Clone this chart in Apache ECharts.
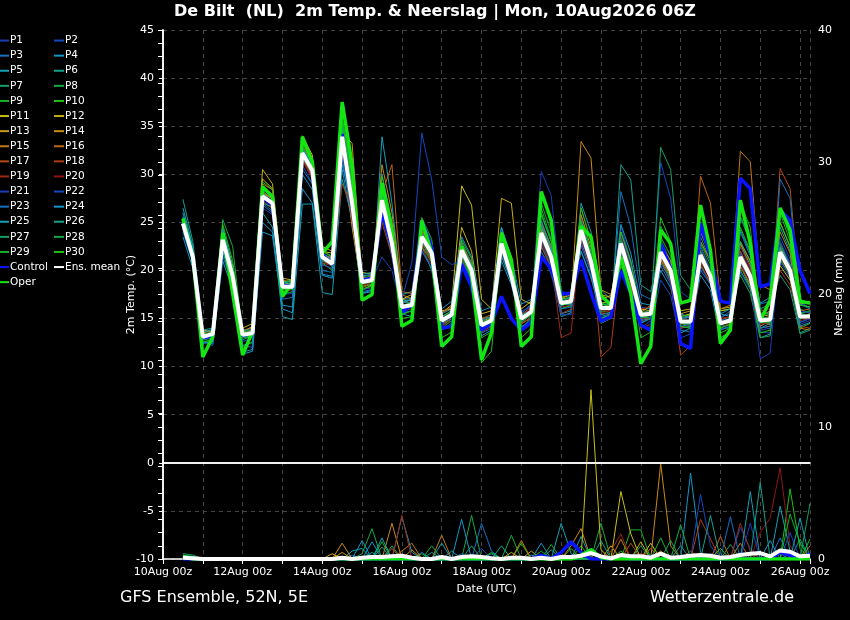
<!DOCTYPE html>
<html><head><meta charset="utf-8">
<script src="https://cdn.jsdelivr.net/npm/echarts@6/dist/echarts.min.js"></script>
<style>html,body{margin:0;padding:0;background:#000}#c{width:850px;height:620px}</style>
</head><body><div id="c"></div>
<script>
// time axis: hours since 10Aug 00z; forecast steps every 6 h from 10Aug 12z
const firstStepHour = 12, stepHours = 6, nSteps = 64;
const dateLabels = ['10Aug 00z','12Aug 00z','14Aug 00z','16Aug 00z','18Aug 00z','20Aug 00z','22Aug 00z','24Aug 00z','26Aug 00z'];
const tempTicks = [-10,-5,0,5,10,15,20,25,30,35,40,45];

// 2m temperature (°C)
const P1  = [24.5,21.0,13.0,13.6, 22.8,19.0,13.5,13.9, 27.2,26.5,18.6,18.0, 31.5,29.8,21.0,20.4, 33.0,26.0,18.5,19.2, 26.0,22.0,16.8,16.5, 22.0,20.5,15.2,15.8, 21.0,19.2,14.6,15.0, 23.5,20.0,15.8,16.2, 25.0,22.4,17.5,17.0, 23.0,20.0,15.4,15.0, 21.5,18.6,14.0,14.8, 23.2,21.0,15.6,15.0, 20.4,18.5,13.8,14.2, 22.5,20.2,16.0,15.4, 20.8,19.2,14.4,14.8];
const P2  = [25.2,21.8,13.4,13.2, 23.6,19.8,13.0,13.2, 28.0,27.4,18.0,18.6, 32.6,30.9,21.8,21.0, 34.5,27.8,19.0,18.7, 28.2,23.5,16.0,16.8, 24.5,22.6,14.2,15.0, 23.0,20.8,13.9,14.5, 21.5,18.8,14.4,15.2, 22.8,20.6,16.0,16.5, 25.5,22.0,17.0,16.8, 24.6,21.0,16.2,16.0, 31.2,27.5,17.8,17.0, 22.5,20.0,15.2,15.5, 19.8,18.0,13.6,13.5, 23.5,21.2,16.8,16.0];
const P3  = [24.2,21.2,13.6,13.9, 22.5,19.6,13.8,14.0, 27.0,26.2,18.8,18.9, 31.8,29.6,21.2,21.3, 33.2,27.5,19.4,19.6, 27.0,23.4,17.0,17.2, 23.0,21.0,15.0,15.9, 21.5,19.5,14.0,14.4, 22.0,19.0,14.8,15.6, 23.2,21.0,16.2,17.0, 22.6,19.8,15.0,15.6, 28.2,24.5,17.5,17.0, 20.5,18.6,13.8,13.6, 22.0,19.8,15.0,15.8, 24.0,21.5,16.5,16.8, 21.0,19.5,14.6,15.0];
const P4  = [23.5,20.2,12.6,12.4, 21.0,18.0,11.5,11.8, 24.0,23.6,16.0,15.6, 28.5,27.0,19.5,19.2, 30.5,25.0,17.6,18.0, 26.0,21.5,15.5,15.2, 22.5,20.0,14.5,15.0, 20.5,18.8,13.2,13.8, 21.0,18.5,14.2,14.6, 22.0,20.0,15.5,15.8, 23.5,20.5,15.8,16.0, 21.0,18.2,14.5,15.0, 20.0,18.2,14.0,14.2, 19.5,18.0,13.0,13.6, 20.8,18.6,14.0,14.5, 22.0,20.5,15.0,15.5];
const P5  = [26.5,22.5,13.0,13.2, 24.5,20.5,12.2,12.5, 26.0,24.5,15.2,14.9, 26.9,26.9,17.7,17.5, 29.5,25.5,17.0,17.5, 33.9,27.0,17.5,17.8, 25.0,22.8,15.5,16.0, 22.5,20.6,15.0,15.2, 24.5,21.0,15.5,16.5, 22.5,20.4,15.2,15.6, 27.0,24.0,18.0,17.0, 23.5,20.2,15.8,16.2, 21.0,19.0,13.5,14.0, 23.0,21.0,15.5,15.2, 20.0,18.2,13.0,13.4, 24.5,22.0,16.5,16.2];
const P6  = [25.0,21.6,13.2,13.6, 23.8,20.2,13.6,13.4, 28.2,27.5,18.4,18.0, 32.8,31.0,21.6,20.6, 35.0,29.0,19.5,19.5, 27.5,23.0,16.5,16.2, 23.8,22.0,15.0,15.2, 21.8,19.8,14.8,15.0, 21.5,18.9,14.0,15.0, 25.8,23.0,17.2,17.5, 22.0,19.2,15.5,15.0, 31.0,29.4,18.5,17.8, 22.5,20.2,15.0,15.2, 20.5,18.8,14.0,14.0, 25.5,23.0,16.0,16.5, 19.5,18.0,13.5,14.0];
const P7  = [25.5,22.0,13.3,13.1, 23.0,19.2,12.8,13.2, 27.5,27.2,18.0,18.4, 32.0,30.2,21.2,21.0, 34.0,27.0,18.6,19.3, 26.5,22.4,16.4,16.6, 22.8,21.4,14.2,15.0, 23.0,20.4,14.0,14.2, 22.6,19.6,15.4,15.8, 24.5,22.0,17.0,16.5, 24.8,21.5,16.5,16.2, 22.0,19.0,14.8,15.5, 32.8,30.5,19.5,18.0, 21.0,19.2,14.8,15.0, 22.0,19.8,14.5,14.6, 23.0,20.5,15.5,15.8];
const P8  = [24.8,21.2,12.8,13.0, 25.3,22.5,13.2,13.0, 28.5,27.8,18.5,18.8, 32.5,30.5,22.0,21.5, 34.8,28.5,18.4,18.5, 25.5,22.0,15.5,15.8, 24.0,22.2,15.2,15.6, 22.4,20.2,14.5,14.8, 23.2,19.8,14.6,15.4, 26.5,23.2,16.8,16.2, 24.0,20.6,16.4,16.6, 21.8,18.8,15.0,15.2, 21.5,19.5,14.2,14.0, 23.5,21.0,15.8,16.0, 19.5,17.6,13.0,13.2, 22.8,20.4,15.6,15.8];
const P9  = [25.0,21.5,13.0,13.5, 23.5,19.5,13.0,13.6, 27.8,27.0,18.2,18.1, 32.2,30.4,21.5,20.5, 34.2,26.5,18.2,18.6, 27.0,22.6,15.8,16.0, 22.5,20.8,13.8,14.5, 22.0,19.8,13.8,14.6, 23.8,20.4,15.2,15.8, 23.0,20.8,16.0,16.4, 25.0,21.6,15.8,15.6, 23.2,19.8,15.0,15.0, 21.0,19.2,14.0,14.6, 22.5,20.0,14.2,14.4, 21.0,19.0,15.0,15.0, 26.5,23.5,16.0,15.5];
const P10 = [25.2,21.6,12.5,12.8, 22.0,18.5,12.0,12.6, 28.8,27.6,17.5,17.8, 33.0,31.0,20.8,20.0, 36.0,30.0,17.0,17.4, 29.0,24.0,15.0,15.2, 24.8,22.0,13.0,13.6, 21.0,19.0,10.4,11.6, 23.0,19.5,13.0,14.0, 26.0,23.0,16.0,16.4, 23.5,20.5,14.5,15.0, 20.5,17.8,10.6,12.0, 23.5,21.5,14.5,14.2, 25.0,22.0,13.5,14.0, 20.5,18.2,13.5,13.8, 21.5,19.8,14.0,14.5];
const P11 = [24.6,21.0,13.5,13.8, 22.6,19.2,13.6,14.2, 29.5,28.5,18.8,18.5, 33.5,31.5,22.0,21.8, 34.6,30.0,19.8,19.6, 26.0,22.8,17.0,17.5, 23.2,21.5,15.6,16.4, 28.8,26.8,17.0,16.0, 22.0,19.8,16.0,16.8, 24.2,22.0,17.0,17.6, 24.5,21.2,17.0,17.4, 22.5,19.2,16.0,15.8, 22.2,20.4,15.2,15.5, 21.2,19.6,15.8,16.0, 22.8,20.5,15.5,15.2, 20.5,19.0,15.0,15.5];
const P12 = [25.4,21.8,13.8,13.6, 24.0,20.4,14.0,14.5, 30.5,29.0,19.2,19.0, 34.0,32.0,22.5,22.0, 33.5,24.5,18.0,18.5, 27.8,23.5,16.6,17.0, 24.2,22.4,15.8,16.0, 24.5,22.0,15.5,15.8, 27.5,27.0,17.0,16.5, 23.5,21.0,16.4,17.0, 23.0,20.0,16.6,16.8, 24.0,20.8,15.6,16.4, 22.0,20.0,15.8,16.0, 24.0,21.5,16.0,16.2, 23.0,21.0,15.2,15.8, 25.0,22.5,16.5,16.8];
const P13 = [24.8,21.5,13.2,13.4, 23.2,19.5,13.4,13.8, 28.0,27.5,18.6,18.4, 32.4,30.6,21.2,20.8, 34.4,33.2,19.2,19.4, 28.5,24.5,17.0,16.8, 23.0,21.2,15.0,15.4, 22.5,20.5,14.6,15.2, 24.0,20.6,15.4,16.0, 24.6,22.2,17.2,17.4, 25.8,22.4,17.5,17.2, 21.0,18.4,14.8,15.0, 22.8,21.0,15.5,15.8, 21.5,19.5,14.5,15.0, 21.0,19.0,14.2,14.8, 22.2,20.2,15.4,15.0];
const P14 = [25.0,21.4,13.4,13.5, 23.4,19.6,13.5,13.6, 28.2,27.4,18.4,18.6, 32.0,30.0,21.0,20.6, 33.0,27.5,18.8,19.2, 31.0,26.0,17.5,17.0, 23.6,22.0,15.0,15.5, 22.0,20.2,14.5,14.8, 22.5,19.2,15.2,15.5, 24.0,21.6,16.5,16.6, 33.4,31.7,18.0,17.5, 22.0,19.0,15.2,15.0, 21.2,19.4,14.6,14.5, 21.8,19.6,14.8,14.6, 21.8,19.8,14.6,14.4, 21.5,19.6,15.0,15.4];
const P15 = [24.4,21.0,13.0,13.2, 23.0,19.4,13.2,13.4, 27.4,26.8,18.2,18.2, 31.8,30.0,21.6,21.2, 33.6,28.0,19.0,19.0, 27.0,23.0,16.2,16.4, 23.2,21.6,14.6,15.2, 22.2,20.0,14.2,14.6, 23.0,19.6,15.0,15.6, 24.0,21.4,16.6,16.8, 24.6,21.4,16.2,16.4, 23.0,19.6,15.6,15.8, 22.4,20.5,15.0,15.4, 23.0,21.0,16.0,16.4, 32.4,31.3,18.5,18.0, 24.0,21.8,14.0,13.8];
const P16 = [25.2,21.8,13.5,13.8, 23.8,20.0,13.8,14.0, 29.0,28.4,19.0,18.8, 33.0,31.2,21.4,21.5, 34.0,26.0,18.0,18.4, 28.0,31.0,17.8,17.6, 24.0,22.5,15.6,16.2, 22.8,20.8,15.0,15.4, 22.2,19.2,14.5,15.0, 24.8,22.6,16.8,17.0, 24.0,20.8,15.6,15.4, 22.2,19.0,15.2,15.6, 21.8,19.6,14.4,14.8, 29.8,27.0,17.0,16.5, 20.5,18.5,14.0,14.2, 22.5,20.5,15.8,16.0];
const P17 = [24.6,21.2,13.2,13.4, 23.2,19.2,13.2,13.6, 27.6,26.8,18.0,18.2, 31.6,29.8,20.6,20.2, 32.0,25.0,18.2,18.8, 27.2,22.6,16.0,16.2, 22.6,21.0,14.4,15.0, 21.6,19.6,14.0,14.6, 23.4,20.0,15.4,16.2, 23.6,21.2,16.6,16.6, 23.8,20.6,16.0,15.8, 22.6,19.4,15.4,15.6, 21.4,19.6,14.8,14.8, 21.8,19.8,14.8,15.2, 21.6,19.4,15.0,15.2, 30.6,28.5,17.0,16.5];
const P18 = [24.8,21.4,13.0,13.2, 23.0,19.0,13.0,13.4, 27.2,26.4,17.8,18.0, 31.5,29.5,20.8,20.5, 29.0,26.5,18.4,18.8, 25.0,21.5,16.2,16.6, 23.0,21.0,14.8,15.4, 21.2,19.2,13.6,14.2, 22.0,19.0,14.4,15.2, 22.5,20.2,15.5,16.0, 26.5,23.0,11.0,12.0, 21.5,18.5,14.0,14.4, 21.0,18.8,11.2,12.2, 20.8,18.6,14.0,14.5, 22.0,20.0,15.5,15.6, 20.0,18.5,14.2,14.0];
const P19 = [25.0,21.5,13.3,13.6, 23.4,19.6,13.6,13.8, 27.8,27.2,18.4,18.4, 32.2,30.2,21.0,20.8, 33.4,26.8,18.8,19.0, 26.8,22.6,16.4,16.6, 23.0,21.4,14.8,15.4, 21.8,19.8,14.2,14.8, 22.4,19.4,14.8,15.4, 23.4,21.0,13.0,13.5, 24.4,21.0,15.8,16.0, 23.6,20.4,16.0,16.2, 20.8,19.0,14.0,14.4, 22.2,19.8,15.0,15.2, 22.6,20.4,15.8,16.0, 21.2,19.4,14.8,15.0];
const P20 = [24.6,21.2,13.1,13.4, 23.0,19.2,13.0,13.5, 27.4,26.6,18.0,18.0, 31.4,29.6,21.0,20.4, 33.0,26.0,18.5,18.8, 26.5,22.0,15.8,16.0, 22.2,20.6,14.2,14.8, 22.4,20.4,14.8,15.2, 23.0,19.8,15.4,16.0, 23.0,20.8,16.2,16.4, 23.2,20.2,15.6,15.8, 22.4,19.2,15.0,15.0, 22.0,20.0,15.0,15.2, 21.0,19.0,14.0,14.6, 20.6,18.8,14.4,14.6, 21.8,20.0,15.4,15.2];
const P21 = [25.0,21.6,13.2,13.3, 23.2,19.4,13.2,13.5, 27.6,27.0,18.4,18.2, 32.0,30.4,21.6,20.8, 33.6,27.2,19.2,19.0, 21.4,20.0,16.0,16.4, 23.5,21.8,15.0,15.6, 22.6,20.4,14.6,15.0, 23.2,20.0,15.2,16.0, 30.3,27.8,18.0,17.0, 22.8,19.8,15.2,15.0, 22.4,19.6,14.8,15.2, 21.6,19.8,15.2,15.0, 21.2,19.2,14.2,14.2, 21.2,19.0,10.8,11.4, 23.0,20.8,15.8,15.6];
const P22 = [24.4,21.0,12.8,13.0, 22.8,19.0,12.6,13.0, 26.5,25.8,17.5,17.6, 31.0,29.0,20.6,20.2, 32.5,25.5,18.0,18.2, 27.0,22.5,17.0,20.8, 34.3,29.4,21.4,20.6, 21.0,19.0,14.0,14.8, 23.0,19.5,15.6,16.4, 22.0,19.6,15.4,15.4, 23.4,20.4,16.0,16.4, 23.8,20.6,14.2,14.0, 19.0,17.4,13.0,13.4, 22.4,20.2,14.8,15.0, 21.8,19.6,13.8,14.0, 22.0,20.0,14.6,15.0];
const P23 = [24.0,20.8,12.6,12.2, 21.5,18.5,12.2,12.0, 26.8,26.0,17.0,17.2, 30.5,29.0,20.0,19.8, 31.5,26.0,17.8,18.0, 26.0,21.8,15.6,15.8, 22.0,20.2,13.8,14.4, 21.0,19.2,13.5,14.0, 22.0,19.0,14.0,15.0, 23.4,21.0,16.0,16.2, 24.0,20.8,15.4,15.6, 22.0,19.2,14.6,15.0, 20.8,19.0,14.2,14.4, 20.0,18.6,13.8,14.2, 21.0,19.0,14.0,14.2, 29.5,27.5,16.5,16.0];
const P24 = [26.0,22.4,12.4,12.6, 22.0,18.8,11.3,11.6, 25.0,24.0,16.4,16.2, 30.0,28.4,19.6,19.4, 31.0,26.6,17.6,17.8, 30.0,25.0,16.6,17.0, 24.6,22.6,16.0,16.8, 23.5,21.4,15.8,16.2, 24.5,21.4,16.5,17.0, 23.8,21.6,16.8,17.2, 22.0,19.4,15.0,15.4, 24.8,21.8,16.6,16.4, 22.6,20.6,15.5,15.0, 21.4,19.6,15.5,16.0, 24.2,21.8,16.6,17.2, 22.4,20.6,14.2,14.6];
const P25 = [25.6,22.0,13.6,13.8, 24.2,20.2,13.8,13.8, 28.0,27.2,18.8,18.6, 32.6,30.8,21.8,21.2, 34.8,28.0,19.6,19.8, 27.8,23.2,16.8,17.0, 23.6,21.8,14.8,15.4, 22.2,20.0,14.4,15.0, 22.8,19.4,15.0,15.6, 25.2,22.4,17.0,17.2, 24.4,21.0,16.2,16.0, 22.6,19.6,15.2,15.4, 22.2,20.2,15.0,15.2, 21.6,19.6,14.6,14.8, 21.2,19.2,14.6,14.8, 21.6,19.8,15.2,15.4];
const P26 = [27.4,23.0,13.8,14.0, 23.8,19.8,13.0,13.2, 28.4,27.6,18.6,19.0, 32.8,31.0,21.2,21.0, 35.2,30.5,19.0,19.4, 28.4,24.0,16.8,16.6, 23.8,21.8,14.6,15.2, 22.6,20.6,14.8,15.2, 22.4,19.6,15.4,15.8, 24.6,22.0,16.6,16.4, 25.0,21.8,16.6,16.4, 22.2,19.0,15.0,15.4, 21.6,19.8,14.6,14.4, 22.0,19.8,14.6,15.0, 23.0,20.8,15.4,15.6, 22.4,20.2,15.6,15.2];
const P27 = [24.4,21.0,12.8,13.0, 22.6,19.2,13.2,13.4, 27.0,26.6,18.0,18.2, 31.8,30.0,21.0,20.6, 33.2,26.2,18.6,18.8, 27.2,22.6,16.0,16.2, 23.0,21.2,14.6,15.2, 21.6,19.6,14.0,14.6, 22.4,19.2,14.6,15.4, 23.6,21.2,16.4,16.6, 24.2,20.8,16.0,16.0, 23.0,19.8,15.6,15.8, 22.0,20.0,14.8,14.8, 21.4,19.4,14.4,14.8, 25.6,23.5,15.2,15.0, 21.2,19.4,13.4,13.8];
const P28 = [25.0,21.4,13.0,13.2, 23.0,19.4,13.4,13.6, 27.6,26.8,18.2,18.4, 32.0,30.2,21.2,20.8, 33.8,27.0,18.8,19.0, 27.4,22.8,16.2,16.4, 23.4,21.6,14.8,15.4, 22.0,20.0,14.2,14.8, 22.8,19.4,15.0,15.6, 23.8,21.4,16.6,16.8, 24.2,21.0,16.2,16.2, 22.6,19.4,15.4,15.6, 21.8,20.0,14.6,14.8, 21.6,19.4,14.6,14.8, 21.4,19.4,14.8,14.8, 22.0,20.0,15.2,15.2];
const P29 = [24.8,21.2,12.6,12.8, 23.6,19.8,13.0,13.2, 28.6,27.8,18.4,18.0, 33.2,31.4,21.4,20.4, 35.5,29.5,18.0,18.4, 28.6,23.6,15.4,15.8, 24.6,22.4,14.0,14.8, 21.4,19.4,13.0,13.6, 23.6,20.2,14.0,14.6, 27.0,24.0,16.4,16.6, 25.2,22.0,15.0,15.4, 23.0,19.8,13.0,13.6, 24.6,22.4,14.2,14.0, 22.8,20.6,13.0,13.6, 27.0,24.5,14.6,14.6, 26.0,23.0,15.0,15.2];
const P30 = [25.2,21.8,13.4,13.6, 24.8,21.0,13.6,13.8, 29.2,28.4,18.8,19.0, 33.4,31.6,22.0,21.4, 35.6,28.8,19.4,19.2, 29.8,25.0,16.4,16.6, 25.5,23.2,15.2,15.8, 23.2,21.2,14.6,15.0, 23.0,19.6,14.8,15.4, 27.8,25.2,17.0,17.2, 26.5,23.0,16.6,16.2, 24.0,21.0,15.2,15.0, 25.5,23.0,15.2,15.4, 24.6,22.0,14.0,14.4, 24.5,22.0,15.6,15.4, 25.0,22.4,16.4,16.2];
const Control = [25.0,21.4,13.0,13.2, 23.0,19.2,13.2,13.6, 27.6,26.8,18.4,18.4, 32.2,30.4,21.6,20.6, 34.2,27.0,19.0,19.2, 26.0,22.5,15.7,16.4, 25.2,22.4,14.0,14.2, 20.6,18.3,13.8,14.5, 17.3,15.0,13.8,14.6, 21.4,20.2,17.6,17.6, 21.1,17.7,14.7,15.2, 20.0,17.6,14.3,13.8, 22.8,20.2,12.4,11.9, 24.9,21.4,16.8,16.6, 29.6,28.5,18.3,18.6, 26.3,25.2,20.0,17.6];
const Oper = [25.4,21.4,11.0,13.1, 23.9,17.6,11.2,13.7, 28.7,27.7,17.3,18.7, 33.9,31.3,21.8,23.0, 37.5,31.0,16.9,17.5, 29.1,24.2,14.2,14.8, 25.2,21.8,12.1,13.1, 22.5,19.4,10.7,13.5, 23.9,21.1,12.1,13.1, 28.2,25.2,16.6,16.8, 24.6,23.5,17.4,16.4, 21.4,17.6,10.3,12.1, 24.2,22.8,16.6,16.9, 26.8,22.1,12.4,13.8, 27.3,22.8,14.8,16.9, 26.5,24.2,16.8,16.6];
const EnsMean = [24.9,21.4,13.1,13.4, 23.2,19.4,13.3,13.5, 27.7,27.0,18.3,18.3, 32.2,30.4,21.4,20.7, 33.9,27.0,18.8,19.0, 27.3,22.8,16.2,16.4, 23.5,21.8,14.8,15.4, 22.1,20.0,14.3,14.8, 22.8,19.4,15.0,15.7, 23.9,21.4,16.6,16.8, 24.2,20.9,16.1,16.1, 22.8,19.4,15.4,15.5, 21.9,20.0,14.7,14.7, 21.6,19.4,14.5,14.8, 21.4,19.4,14.8,14.9, 21.9,20.0,15.2,15.2];

// 6-hourly precipitation (mm)
const P1p  = [0,0,0,0, 0,0,0,0, 0,0,0,0, 0,0,0,0, 0,0,0,0, 0,0,0,0, 0,0,0,0, 0,0,0,0, 0,0,0,0, 0,0,0,0, 0,0,0,0, 0,0.2,0,0, 0,0,0,0, 0.3,0,0,0, 0.5,0,0,0, 0.4,0,0,0];
const P2p  = [0,0,0,0, 0,0,0,0, 0,0,0,0, 0,0,0,0, 0,0,0,0, 0,0,0,0, 0,0,0,0, 0,0,0,0, 0,0,0,0, 0,0,0,0, 0.2,0,0,0, 0,0,0,0, 0,0,0,0, 0,0.3,0,0, 2.4,0.8,0,0, 0,0,0,0];
const P3p  = [0,0,0,0, 0,0,0,0, 0,0,0,0, 0,0,0,0, 0,0.3,0,0, 0,0,0,0, 0.5,0,0,0, 0,0,2.7,0.6, 0,0,0,0, 0,0,0,0, 0,0,0,0, 0,0,0,0, 0.3,0,0,0, 0,0,0,0, 0,0,0,0, 0,0,0,0];
const P4p  = [0,0,0,0, 0,0,0,0, 0,0,0,0, 0,0,0,0, 0,0,1.4,0, 0,0,3.2,0.5, 0,0,0,0, 0,0,0,0, 0,0,0,0.3, 0,0,0,0, 1.7,0,0,0, 0,0,0,0, 0,0,0,6.5, 0.5,0,0,0, 0,0,0,0, 0,0.4,0,0];
const P5p  = [0,0,0,0, 0,0,0,0, 0,0,0,0, 0,0,0,0, 0,0.6,0.8,0, 0,0,0,0, 0,0,0,0.6, 0,0,0,0, 0,0,0,0, 0,0,2.7,0.4, 0,0,0,0, 0,0,0,0, 0,0,0,0, 0,0,0,0, 0,0,0,0, 4.0,0.6,0,0];
const P6p  = [0,0,0,0, 0,0,0,0, 0,0,0,0, 0,0,0,0, 0,0,0,0.5, 0,0,0,0, 0,0.5,0,0, 0,0,0,0, 1.0,0,0,0, 0,0,0,0, 0,0,0,0, 0,0,0,0, 0,0,1.0,0, 0,0,0,0, 0,0,0,0, 0,0,1.5,0];
const P7p  = [0.4,0.3,0,0, 0,0,0,0, 0,0,0,0, 0,0,0,0, 0,0,0,0, 0,1.0,0,0, 0,0,0,0, 0,0,0,0, 0,0,0,0, 0,0,0,0, 0,0,0,0, 0.3,0,0,0, 0,0,0,0, 0,0,0,1.1, 0,0,0,0, 0,0,0,0];
const P8p  = [0.3,0.2,0,0, 0,0,0,0, 0,0,0,0, 0,0,0,0, 0,0,0.4,2.3, 0,0,0,0, 0,0,0,0, 0,3.3,0,0, 0,0,0,0, 0,1.1,0,0, 0,0,2.7,0, 0,0,0,0, 0,0,0,0, 0,0,0,0, 0,0,0,0, 0,0,0,0];
const P9p  = [0,0,0,0, 0,0,0,0, 0,0,0,0, 0,0,0,0, 0,0,0,0, 1.3,0,0,0, 0.4,0,0,0, 0,0,0,0, 0,0,0,0, 0.6,0,0,0, 1.0,0,0,0, 0,2.2,2.2,0, 0,0,0,0, 0,0,0,0, 0,0,0,0, 0,0,0,0];
const P10p = [0,0,0,0, 0,0,0,0, 0,0,0,0, 0,0,0,0, 0,0,0,0, 0,0,0,0, 0,0,0,0, 0,0,0,0, 0,0,1.2,0, 0,0,0,0.8, 0,0,0,0, 0,0,0,0, 0,0,0,0, 0,0,0,0, 0,0,0,0, 0,5.3,0.8,0];
const P11p = [0,0,0,0, 0,0,0,0, 0,0,0,0, 0,0,0,0, 0,0,0,0, 0,0,0,0, 0,0,0,0, 0,0,0,0, 0,0,0,0, 0,0,0,0, 0,12.8,0.7,0, 5.1,1.9,0,1.2, 0,0,0,0, 0,0,0,0, 0,0,0,0, 0,0,0,0];
const P12p = [0,0,0,0, 0,0,0,0, 0,0,0,0, 0,0,0,0.4, 0,0,0,0, 0,0,0,0, 0,0,0,0, 0,0,0,0, 0,0.5,0,0, 0,0,0,0, 0,0,0,1.0, 0,0,1.3,0, 0,0,0,0, 0,0,0,0, 0,0,0,0, 0,0,0,0];
const P13p = [0,0,0,0, 0,0,0,0, 0,0,0,0, 0,0,0,0, 0.5,0,0,0, 0,0,0,0.7, 0,0,0,0, 0,0,0,0, 0,0,0,0.6, 0,0,0,0, 0,0,0,0, 0,0,0,0, 0.6,0,0,0, 0,0,0,0, 0,0,0,0, 0,0,0,0];
const P14p = [0,0,0,0, 0,0,0,0, 0,0,0,0, 0,0,0,0, 1.2,0,0,0, 0,2.7,0,0, 0,0,0,0, 0,0,0,0, 0,0,0,0, 0,0,0,1.0, 2.3,0,0,0, 0,0,0,0, 7.2,1.0,0,0, 0,0,0,0, 0,0,0,0, 0,0,0,0];
const P15p = [0,0,0,0, 0,0,0,0, 0,0,0,0, 0,0,0,0, 0,0,0,0, 0,0,0.6,1.2, 0,0,1.8,0, 0,0,0,0, 0,0,1.4,0, 0,0,0,0, 0,0,0,0, 1.5,0,0,0, 0,0,0,0, 0,0,0,0, 1.2,0,0,0, 0,0,0,0];
const P16p = [0,0,0,0, 0,0,0,0, 0,0,0,0, 0,0,0,0, 0,0,0,0, 0,0.8,0,0, 0,0,0,0, 0,0,0,0, 0,0,0,0, 0,0,0,0, 0,0,0,0, 0,0,0,0.8, 0,0,0,0, 0,0,1.7,0, 0,0,0,0, 0,0,0,1.0];
const P17p = [0,0,0,0, 0,0,0,0, 0,0,0,0, 0,0,0,0, 0,0,0,0, 0,0,0,0, 0,0,0,0, 0,0,0,0, 0,0,0,0, 0,0,0.4,0, 0,0,0,0, 0,1.2,0,0, 0,0,0,0.6, 0,0,0,0, 0,0,0.5,0, 0,0,0,0];
const P18p = [0,0,0,0, 0,0,0,0, 0,0,0,0, 0,0,0,0, 0,0,0,0, 0,0,0,0, 0,0,0,0, 0,0,0,0, 0,0,0,0, 0,0,0,0, 0,0,0,0, 0,0,0.4,0, 0,0,0,0, 3.0,1.5,0,0, 0,0,0,0, 0,0,0,0];
const P19p = [0,0,0,0, 0,0,0,0, 0,0,0,0, 0,0,0,0, 0,0,0,0, 0,0,3.3,0, 0,0,0,0, 0,0,0,0, 0,0,0,0, 0,0,0,0, 0,0,0,0.6, 1.9,0,0,0, 0,0,0,0, 0,0,0,0, 2.7,0.6,0,0, 0,0,0,0];
const P20p = [0,0,0,0, 0,0,0,0, 0,0,0,0, 0,0,0,0, 0,0,0,0, 0,0,0,0, 0,0,0,0, 0,0,0,0, 0,0,0,0, 0,0,0,0, 0,0,0,0, 0,0,0,0, 0,0,0,0, 0,0,0,0, 0,0,2.0,3.1, 6.9,1.0,0,0];
const P21p = [0,0,0,0, 0,0,0,0, 0,0,0,0, 0,0,0,0, 0,0,0,0, 0,0,0,0, 0,0,0,0, 0,0,0,0, 0,0,0,0, 0.2,0,0,0, 0,0,0,0, 0,0,0,0, 0,0,0,0, 0,0.4,0,0, 0,2.7,0,0, 0,0,0,0];
const P22p = [0,0,0,0, 0,0,0,0, 0,0,0,0, 0,0,0,0, 0,0,0,0, 0,0,0,0, 0,0,0,0, 0,0,0.8,0, 0,0,0,0, 0,0,0,0, 0,0,0,0, 0,0,0,0, 0,0,0,0, 4.9,1.0,0,0, 0,0,0,0, 0,2.0,0,0];
const P23p = [0,0,0,0, 0,0,0,0, 0,0,0,0, 0,0,0,0, 0,0,0,0, 0,0,0,0, 0,0,0,0, 0.4,0,0,0, 0,0,0,0, 0,0,0,0, 0,0,0,0, 0,0,0,0.3, 0,0,0,0, 0,0,0,3.2, 0,0,0,0, 1.6,0,0,0];
const P24p = [0,0,0,0, 0,0,0,0, 0,0,0,0, 0,0,0,0, 0,0,0,1.3, 0,0,0,0, 0,0,0,0, 3.0,0,0,0.4, 0,0,0,0, 1.2,0,0,0, 0,0,0,0, 0,0,0,0, 0,0,0,0, 0,0,0,0, 0,0,0,1.4, 0,0,0,0];
const P25p = [0,0,0,0, 0,0,0,0, 0,0,0,0, 0,0,0,0, 0,0,0,0, 1.6,0,0,0, 0,0,1.2,0, 0,0,0,0, 0,0,0,0, 0,0,0,0, 0,0,0,0, 0,0,0,0, 0,0,0,0, 0,0,0,0, 0,5.1,0,0, 0,0,3.1,0];
const P26p = [0,0,0,0, 0,0,0,0, 0,0,0,0, 0,0,0,0, 0,0,0,0, 0.9,0,0,0, 0,0,0,0, 0,0,0,0, 0,0,0,0, 0,0.7,0,0, 0,0,1.4,0, 0,0,0,0, 0,0,0,0, 0,3.3,0,0, 0,0,5.8,0, 0,0,0,0];
const P27p = [0,0,0,0, 0,0,0,0, 0,0,0,0, 0,0,0,0, 0,0,0,0, 0,0,0,0, 0,0,0,0, 0,1.0,0,0, 0,0,0,0, 0,0,0,0, 0,0,0,0, 0,0,1.0,0, 0,1.4,0,0, 0,0,0,0, 0,0,0,0, 0,0,0,4.2];
const P28p = [0,0,0,0, 0,0,0,0, 0,0,0,0, 0,0,0,0, 0,0,0,0, 0,0,0,0, 0,1.0,0,0, 0,0,0,0, 0,1.8,0,0, 0,0,0,0, 0,0.8,0,0, 0,0,0,0, 0,0,2.6,0, 0,0,0,0, 0,0,0,0, 0,0,0,0];
const P29p = [0,0,0,0, 0,0,0,0, 0,0,0,0, 0,0,0,0, 0,0,0,0, 0,0,0,0, 0,0,0,0, 0,0,0,0.5, 0,0,0,0, 0,0,0,0, 0,0,0,0, 0,0,0,0, 1.6,0,0,0, 0,0,0,0, 0,0,0,0, 0,3.4,1.2,0];
const P30p = [0,0,0,0, 0,0,0,0, 0,0,0,0, 0,0,0,0, 0,0,0,0, 0,0,0,0, 0,0,0,0, 0,0,0,0, 0,0,0,0, 0,0,0,0, 0,0,0,0, 0.6,0,0,0, 0,0,0,0, 0,0,0.8,0, 0,0,0,0, 0,0,0,1.5];
const ControlP = [0,0,0,0, 0,0,0,0, 0,0,0,0, 0,0,0,0, 0,0,0,0, 0,0,0,0, 0,0,0,0, 0,0,0,0, 0,0,0,0, 0.3,0,0.5,1.3, 0.5,0,0,0, 0.2,0,0,0, 0,0,0,0, 0,0,0,0, 0,0,0,0, 0.5,0.3,0,0.4];
const OperP = [0.2,0,0,0, 0,0,0,0, 0,0,0,0, 0,0,0,0, 0,0,0,0, 0,0,0,0, 0,0,0,0, 0,0,0,0, 0,0,0,0, 0,0,0,0, 0.3,0.7,0.1,0, 0,0,0,0, 0,0,0,0, 0,0,0,0, 0,0,0,0, 0,0,0,0];
const EnsMeanP = [0.1,0.05,0,0, 0,0,0,0, 0,0,0,0, 0,0,0,0, 0.1,0,0.1,0.15, 0.15,0.2,0.25,0.1, 0,0,0.15,0, 0.15,0.2,0.15,0.05, 0,0.1,0.1,0, 0.1,0,0.15,0.15, 0.25,0.45,0.2,0.05, 0.3,0.2,0.2,0.1, 0.4,0.1,0.15,0.25, 0.3,0.25,0.1,0.15, 0.3,0.4,0.45,0.2, 0.65,0.55,0.2,0.25];

const memberTemps = [P1,P2,P3,P4,P5,P6,P7,P8,P9,P10,P11,P12,P13,P14,P15,P16,P17,P18,P19,P20,P21,P22,P23,P24,P25,P26,P27,P28,P29,P30];
const memberPrecip = [P1p,P2p,P3p,P4p,P5p,P6p,P7p,P8p,P9p,P10p,P11p,P12p,P13p,P14p,P15p,P16p,P17p,P18p,P19p,P20p,P21p,P22p,P23p,P24p,P25p,P26p,P27p,P28p,P29p,P30p];

// styling
const palette20 = ['#1a3cb4','#1448be','#1470c0','#1496c8','#14a0b4','#14a08c','#14a064','#14aa46','#14b428','#1ec014',
                   '#c8c014','#c8b014','#c89c14','#c88c14','#c07814','#c06414','#b44c14','#b03c14','#a02814','#901414'];
const FONT = 'DejaVu Sans';

const steps = [];
for (let i = 0; i < nSteps; i++) steps.push(firstStepHour + i * stepHours);
const pairs = arr => arr.map((v, i) => [steps[i], v]);

const series = [];
function addPair(name, temp, prec, color, width, z) {
  series.push({name, type:'line', xAxisIndex:0, yAxisIndex:0, data:pairs(temp), showSymbol:false, symbol:'none',
    lineStyle:{color, width}, itemStyle:{color}, z, silent:true, animation:false});
  series.push({name, type:'line', xAxisIndex:0, yAxisIndex:1, data:pairs(prec), showSymbol:false, symbol:'none',
    lineStyle:{color, width}, itemStyle:{color}, z, silent:true, animation:false});
}
memberTemps.forEach((t, i) => addPair('P' + (i + 1), t, memberPrecip[i], palette20[i % 20], 1, 2));
addPair('Control', Control, ControlP, '#0a14ff', 3.5, 3);
addPair('Oper', Oper, OperP, '#14e614', 3.5, 4);
addPair('Ens. mean', EnsMean, EnsMeanP, '#ffffff', 4, 5);
// zero line separating temperature and precipitation panels
series.push({type:'line', xAxisIndex:0, yAxisIndex:0, data:[], silent:true, z:6,
  markLine:{silent:true, symbol:'none', label:{show:false}, animation:false,
    lineStyle:{color:'#ffffff', width:1.5, type:'solid'}, data:[{yAxis:0}]}});

const names = memberTemps.map((_, i) => 'P' + (i + 1));
const col1 = names.filter((_, i) => i % 2 === 0).concat(['Control','Oper']);
const col2 = names.filter((_, i) => i % 2 === 1).concat(['Ens. mean']);
const legendBase = {orient:'vertical', top:33, itemGap:0, itemWidth:10, itemHeight:2, icon:'rect', padding:0,
  textStyle:{color:'#fff', fontSize:10.5, fontFamily:FONT, lineHeight:15.1, padding:[0,0,0,-4]}, selectedMode:false};

const chart = echarts.init(document.getElementById('c'));
chart.setOption({
  backgroundColor:'#000',
  animation:false,
  grid:{left:163, right:40, top:30, bottom:61, outerBoundsMode:'none', containLabel:false},
  legend:[Object.assign({left:-1, data:col1}, legendBase), Object.assign({left:54, data:col2}, legendBase)],
  xAxis:[{
    type:'value', min:0, max:390, interval:24, position:'bottom',
    name:'Date (UTC)', nameLocation:'middle', nameGap:25, nameMoveOverlap:false,
    nameTextStyle:{color:'#fff', fontSize:11, fontFamily:FONT},
    axisLine:{lineStyle:{color:'#fff', width:1.5}},
    axisTick:{show:false},
    axisLabel:{color:'#fff', fontSize:11, fontFamily:FONT, margin:8, showMaxLabel:false,
      formatter:v => (v % 48 === 0 ? (dateLabels[v / 48] || '') : '')},
    splitLine:{show:true, lineStyle:{color:'#454545', type:[4,4], width:1}}
  },{
    type:'value', min:0, max:390, interval:24, position:'top',
    axisLine:{lineStyle:{color:'#fff', width:1.5}},
    axisTick:{show:true, inside:true, length:5, lineStyle:{color:'#fff'}},
    axisLabel:{show:false}, splitLine:{show:false}
  }],
  yAxis:[{
    type:'value', min:tempTicks[0], max:tempTicks[tempTicks.length-1], interval:5, position:'left',
    name:'2m Temp. (°C)', nameLocation:'middle', nameGap:26, nameRotate:90, nameMoveOverlap:false,
    nameTextStyle:{color:'#fff', fontSize:11, fontFamily:FONT},
    axisLine:{show:true, lineStyle:{color:'#fff', width:1.5}},
    axisTick:{show:true, length:4, lineStyle:{color:'#fff'}},
    axisLabel:{color:'#fff', fontSize:11, fontFamily:FONT, margin:9},
    splitLine:{show:true, lineStyle:{color:'#454545', type:[4,4], width:1}}
  },{
    type:'value', min:0, max:40, interval:10, position:'right',
    name:'Neerslag (mm)', nameLocation:'middle', nameGap:24, nameRotate:90, nameMoveOverlap:false,
    nameTextStyle:{color:'#fff', fontSize:11, fontFamily:FONT},
    axisLine:{show:true, lineStyle:{color:'#fff', width:1.5}},
    axisTick:{show:true, inside:true, length:5, lineStyle:{color:'#fff'}},
    minorTick:{show:true, splitNumber:10, length:5, lineStyle:{color:'#fff'}},
    axisLabel:{color:'#fff', fontSize:11, fontFamily:FONT, margin:8},
    splitLine:{show:false}
  }],
  graphic:[
    {type:'text', left:174, top:4, style:{text:'De Bilt  (NL)  2m Temp. & Neerslag | Mon, 10Aug2026 06Z',
      fill:'#fff', font:'bold 16px "DejaVu Sans"'}},
    {type:'text', left:120, top:590, style:{text:'GFS Ensemble, 52N, 5E', fill:'#fff', font:'16px "DejaVu Sans"'}},
    {type:'text', right:56, top:590, style:{text:'Wetterzentrale.de', fill:'#fff', font:'16px "DejaVu Sans"'}}
  ],
  series
});
</script></body></html>
